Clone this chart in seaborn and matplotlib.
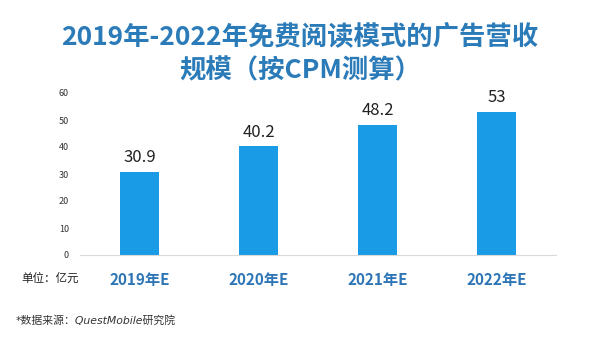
import matplotlib
matplotlib.use("Agg")
import matplotlib.pyplot as plt
import seaborn as sns
import pandas as pd

categories = ["2019年E", "2020年E", "2021年E", "2022年E"]
values = [30.9, 40.2, 48.2, 53]
value_labels = ["30.9", "40.2", "48.2", "53"]
yticks = [0, 10, 20, 30, 40, 50, 60]

sns.set_theme(style="white")
plt.rcParams['font.family'] = ['Noto Sans CJK SC', 'DejaVu Sans']

df = pd.DataFrame({"cat": categories, "val": values})

fig = plt.figure(figsize=(6, 3.38), dpi=100)
ax = fig.add_axes([80/600, 1-255/338, 476/600, (255-93)/338])
sns.barplot(data=df, x="cat", y="val", color="#1A9BE6", width=0.32, ax=ax,
            saturation=1, edgecolor="none")
ax.set_xlim(-0.5, 3.5)
ax.set_ylim(0, 60)
ax.set_yticks(yticks)
ax.set_yticklabels([str(t) for t in yticks], fontsize=6.5, color="#333333")
ax.set_xlabel("")
ax.set_ylabel("")
for s in ["top", "right", "left"]:
    ax.spines[s].set_visible(False)
ax.spines["bottom"].set_color("#d9d9d9")
ax.spines["bottom"].set_linewidth(0.8)
ax.tick_params(axis="y", length=0, pad=8)
ax.tick_params(axis="x", length=0, pad=12)
for lbl in ax.get_xticklabels():
    lbl.set_fontsize(11)
    lbl.set_fontweight("bold")
    lbl.set_color("#2E75B6")
for i, (v, t) in enumerate(zip(values, value_labels)):
    ax.text(i, v + 2, t, ha="center", va="bottom", fontsize=12, color="#222222")

fig.text(0.5, 1-38/338, "2019年-2022年免费阅读模式的广告营收", ha="center", va="center",
         fontsize=19, fontweight="bold", color="#2B7BB9")
fig.text(0.5, 1-71/338, "规模（按CPM测算）", ha="center", va="center",
         fontsize=19, fontweight="bold", color="#2B7BB9")
fig.text(21/600, 1-278/338, "单位：亿元", ha="left", va="center", fontsize=8.3, color="#222222")
fig.text(16/600, 1-320/338, "*数据来源：QuestMobile研究院", ha="left", va="center",
         fontsize=7.8, color="#333333", style="italic",
         family=['DejaVu Sans', 'Noto Sans CJK SC'])
fig.savefig("out.png", dpi=100)
